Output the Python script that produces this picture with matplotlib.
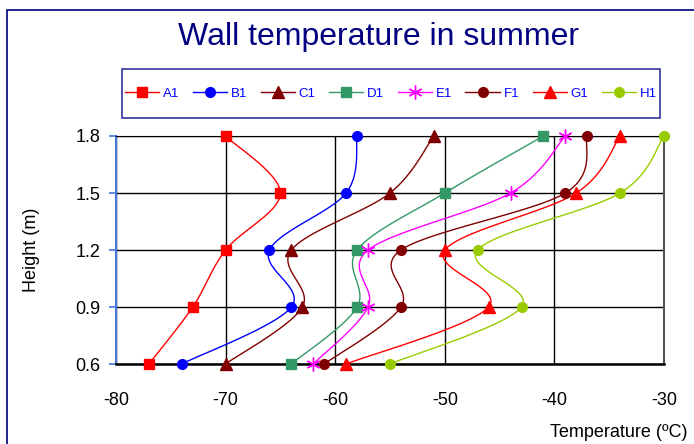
import numpy as np
import matplotlib
matplotlib.use('Agg')
from matplotlib import pyplot as plt
from matplotlib.patches import Rectangle

plt.rcParams['font.family'] = ['Liberation Sans', 'DejaVu Sans']
plt.rcParams['axes.unicode_minus'] = False

# measurement heights (m) and wall temperature per position (degC)
heights = [0.6, 0.9, 1.2, 1.5, 1.8]
series_names = ['A1', 'B1', 'C1', 'D1', 'E1', 'F1', 'G1', 'H1']
a1 = [-77, -73, -70, -65, -70]
b1 = [-74, -64, -66, -59, -58]
c1 = [-70, -63, -64, -55, -51]
d1 = [-64, -58, -58, -50, -41]
e1 = [-62, -57, -57, -44, -39]
f1 = [-61, -54, -54, -39, -37]
g1 = [-59, -46, -50, -38, -34]
h1 = [-55, -43, -47, -34, -30]
x_ticks = [-80, -70, -60, -50, -40, -30]
y_ticks = [0.6, 0.9, 1.2, 1.5, 1.8]

styles = [
    ('#FF0000', 's'),
    ('#0000FF', 'o'),
    ('#800000', '^'),
    ('#339966', 's'),
    ('#FF00FF', '*'),
    ('#800000', 'o'),
    ('#FF0000', '^'),
    ('#99CC00', 'o'),
]


def smooth(px, py, n=30):
    # Catmull-Rom style bezier through the points (like spreadsheet smoothed lines)
    pts = np.column_stack([px, py]).astype(float)
    out = [pts[0]]
    for i in range(len(pts) - 1):
        p0 = pts[i - 1] if i > 0 else pts[i]
        p1 = pts[i]
        p2 = pts[i + 1]
        p3 = pts[i + 2] if i + 2 < len(pts) else pts[i + 1]
        c1 = p1 + (p2 - p0) / 6.0
        c2 = p2 - (p3 - p1) / 6.0
        t = np.linspace(0, 1, n)[1:, None]
        seg = ((1 - t) ** 3) * p1 + 3 * ((1 - t) ** 2) * t * c1 \
            + 3 * (1 - t) * t ** 2 * c2 + t ** 3 * p2
        out.extend(seg)
    out = np.array(out)
    return out[:, 0], out[:, 1]


fig = plt.figure(figsize=(6.94, 4.44), dpi=100)
ax = fig.add_axes([116 / 694, 80 / 444, 548 / 694, 228 / 444])

xmin, xmax = -80, -30
ymin, ymax = 0.6, 1.8
# aspect factor so smoothing happens in screen space
sx = 548 / (xmax - xmin)
sy = 228 / (ymax - ymin)

all_series = [a1, b1, c1, d1, e1, f1, g1, h1]
handles = []
for name, vals, (col, mk) in zip(series_names, all_series, styles):
    xs, ys = smooth(np.array(vals) * sx, np.array(heights) * sy)
    ax.plot(xs / sx, ys / sy, color=col, lw=1.0, clip_on=False, zorder=3)
    if mk == '*':
        ax.plot(vals, heights, ls='none', marker=(6, 2, 0), ms=10,
                mec=col, mew=1.0, clip_on=False, zorder=4)
        h, = ax.plot([], [], color=col, lw=1.0, marker=(6, 2, 0), ms=10,
                     mec=col, mew=1.0)
    else:
        ms = 7 if mk != '^' else 8
        ax.plot(vals, heights, ls='none', marker=mk, ms=ms, color=col,
                mec=col, clip_on=False, zorder=4)
        h, = ax.plot([], [], color=col, lw=1.0, marker=mk, ms=ms, mec=col)
    h.set_label(name)
    handles.append(h)

ax.set_xlim(xmin, xmax)
ax.set_ylim(ymin, ymax)
ax.set_xticks(x_ticks)
ax.set_yticks(y_ticks)
ax.set_yticklabels(['%.1f' % v for v in y_ticks])
ax.grid(True, color='black', lw=1.0)
ax.set_axisbelow(True)

ax.tick_params(axis='x', length=0, pad=20, labelsize=13)
ax.tick_params(axis='y', length=5, color='#4477DD', width=1.2, pad=6, labelsize=13)
ax.spines['left'].set_color('#4477DD')
ax.spines['left'].set_linewidth(1.5)
ax.spines['bottom'].set_color('black')
ax.spines['bottom'].set_linewidth(1.8)
ax.spines['top'].set_color('black')
ax.spines['right'].set_color('#555555')
ax.spines['right'].set_linewidth(1.5)

# outer chart frame
fig.patches.append(Rectangle((7 / 694, -0.1), 1.2, (434 / 444) + 0.1,
                             transform=fig.transFigure, fill=False,
                             edgecolor='#000080', lw=1.2))

fig.text(378 / 694, 1 - 37 / 444, 'Wall temperature in summer',
         ha='center', va='center', fontsize=23, color='#000080')

# legend box drawn separately so its padding can be set freely
fig.patches.append(Rectangle((122 / 694, 1 - 118 / 444), 538 / 694, 49 / 444,
                             transform=fig.transFigure, fill=False,
                             edgecolor='#333399', lw=1.2))
leg = fig.legend(handles=handles, loc='center', ncol=8,
                 bbox_to_anchor=(391 / 694, 1 - 93.5 / 444), fontsize=9.5,
                 frameon=False, handlelength=2.6, handletextpad=0.3,
                 columnspacing=1.0, borderpad=0.3)
for t in leg.get_texts():
    t.set_color('#0000FF')

fig.text(32 / 694, 1 - 250 / 444, 'Height (m)', rotation=90,
         ha='center', va='center', fontsize=13)
fig.text(688 / 694, 1 - 432 / 444, 'Temperature (ºC)',
         ha='right', va='center', fontsize=13)

fig.savefig('out.png', dpi=100)
